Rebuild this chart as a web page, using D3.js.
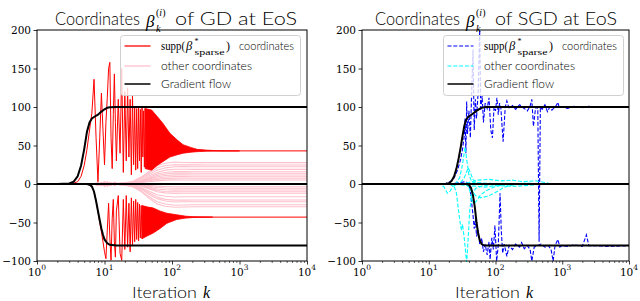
<!DOCTYPE html>
<html><head><meta charset="utf-8">
<script src="https://cdn.jsdelivr.net/npm/d3@7"></script>
<style>body{margin:0;background:#fff} svg{display:block}</style>
</head><body><svg id="c" width="640" height="301"></svg>
<script>
// ---------------- DATA ----------------
const xMajorTicks = [1, 10, 100, 1000, 10000];
const xTickExponents = ["0", "1", "2", "3", "4"];
const yTicks = [-100, -50, 0, 50, 100, 150, 200];
const yTickLabels = ["\u2212100", "\u221250", "0", "50", "100", "150", "200"];
const legendLabels = ["coordinates", "other coordinates", "Gradient flow"];
const panelTitles = ["of GD at EoS", "of SGD at EoS"];

// --- GD panel ---
const gdFlowTop = [[1,0],[2,0.1],[3,0.8],[3.5,3],[4,10],[4.5,24],[5,45],[5.5,68],[6,80],[6.5,85],[7,87],[8,90],[9,94],[10,97],[11,99],[12,99.7],[15,100],[10000,100]];
const gdFlowZero = [[1,0],[10000,0]];
const gdFlowBottom = [[1,0],[5.5,0],[6,-1],[6.5,-3],[7,-10],[7.5,-22],[8,-35],[8.5,-47],[9,-58],[9.5,-66],[10,-72],[11,-77],[12,-79],[15,-80],[10000,-80]];

const gdSuppTop = [[1,0],[2,0],[3,0.3],[3.5,1],[4,3],[4.5,10],[5,24],[5.5,45],[6,70],[6.5,92],[7,136],[7.5,60],[8,3],[8.5,60],[9,118],[9.5,70],[10,25],[10.5,80],[11,112],[11.5,150],[12,158],[12.5,60],[13,20],[13.5,90],[14,143],[14.5,80],[15,30],[16,110],[17,40],[18,150],[19,15],[20,120],[21,30],[22,125],[23,35],[24,110],[25,12],[26,115],[27,25],[28,100],[29,18],[30,98],[31,20],[32,100],[33,30],[34,97],[35,15],[36,99],[37,35],[38,95],[39,22],[40,98],[42,55],[50,55],[100,50],[200,44],[500,43],[10000,43]];
const gdTopBandK     = [40, 50, 60, 73, 93, 120, 146, 190, 235, 320, 464, 700, 1000];
const gdTopBandUpper = [98, 96, 88, 79, 66, 57, 51, 47.5, 45, 44, 43.3, 43.1, 43];
const gdTopBandLower = [20, 18, 24, 29, 35, 38, 40, 41.3, 42, 42.5, 42.8, 42.9, 43];

const gdSuppBottom = [[1,0],[5,0],[6,-1],[6.5,-4],[7,-10],[7.5,-22],[8,-36],[8.5,-50],[9,-62],[9.5,-75],[10,-88],[10.5,-97],[11,-60],[11.5,-25],[12,-70],[12.5,-99],[13,-45],[13.5,-20],[14,-75],[14.5,-95],[15,-35],[16,-15],[17,-90],[18,-99],[19,-20],[20,-85],[21,-15],[22,-82],[23,-25],[24,-88],[25,-18],[26,-80],[27,-22],[28,-75],[29,-20],[30,-72],[31,-24],[32,-74],[33,-26],[34,-70],[35,-28],[36,-71],[38,-45],[60,-45],[120,-43],[10000,-43]];
const gdBotBandK     = [36, 44, 52, 66, 84, 118, 160, 205, 400];
const gdBotBandUpper = [-28, -30, -31, -35, -38, -40, -41.8, -42.5, -43];
const gdBotBandLower = [-71, -67, -64, -58, -51, -46, -44.3, -43.5, -43];

const gdOtherK = [1,7,8,9,10,11,12,14,17,21,27,35,45,60,80,110,150,220,350,10000];
const gdOtherValues = [
  [0,0,1,-1,2,-2,2,-1,1,2,4,9,16,24,27,28.5,28,27.8,27.7,27.7],
  [0,0,-1,1,-2,2,-1,2,0,1,3,8,14,21,24,25,24.9,24.8,24.7,24.7],
  [0,0,1,-2,2,-1,1,0,1,1,3,7,12,18,21,22.5,22.6,22.5,22.5,22.5],
  [0,0,-1,2,-3,2,-2,1,-1,1,2,5,10,15,18,19.2,19.2,19,19,19],
  [0,0,1,-1,3,-3,2,-2,1,0,2,4,8,13,15,16.2,16.1,16,16,16],
  [0,0,-1,1,-1,2,-2,1,0,1,2,4,7,11,13,14.2,14.1,14,14,14],
  [0,0,2,-2,3,-2,1,-1,1,1,1,3,6,9.5,11,11.8,11.8,11.7,11.7,11.7],
  [0,0,-2,1,-2,3,-1,1,0,0,1,3,5,7.5,9,9.6,9.6,9.5,9.5,9.5],
  [0,0,1,-1,1,-1,2,-1,0,1,1,2,4,6,7,7.5,7.4,7.4,7.4,7.4],
  [0,0,-1,2,-1,1,-1,0,1,0,1,2,3,4,5,5.3,5.2,5.2,5.2,5.2],
  [0,0,1,-1,2,-1,1,-1,0,-1,-1,-1.5,-2,-2.8,-3.2,-3.5,-3.5,-3.5,-3.5,-3.5],
  [0,0,-1,1,-2,1,-1,1,0,0,-1,-2,-3,-4.5,-5.2,-5.6,-5.6,-5.6,-5.6,-5.6],
  [0,0,2,-2,1,-2,1,0,-1,0,-1,-2,-4,-6.5,-7.5,-7.9,-7.8,-7.8,-7.8,-7.8],
  [0,0,-2,2,-3,2,-1,1,-1,-1,-1,-3,-5,-8.5,-9.7,-10.1,-10,-10,-10,-10],
  [0,0,1,-2,3,-3,2,-1,1,0,-1,-3,-6,-10,-11.5,-12.2,-12,-12,-12,-12],
  [0,0,-1,1,-2,2,-2,1,0,-1,-2,-5,-9,-14,-16,-16.8,-16.6,-16.5,-16.5,-16.5],
  [0,0,2,-1,2,-2,1,-1,0,-1,-2,-6,-11,-17,-20,-21,-20.9,-20.8,-20.8,-20.8],
  [0,0,-1,2,-2,3,-2,1,-1,-1,-3,-7,-13,-19,-22,-23.3,-23.1,-23,-23,-23],
  [0,0,1,-1,3,-2,2,-1,0,-2,-4,-9,-16,-23,-26,-27.5,-27.2,-27,-27,-27],
  [0,0,-2,1,-3,2,-1,2,-1,-2,-4,-10,-18,-26,-29,-30.2,-29.8,-29.5,-29.5,-29.5]
];

// --- SGD panel ---
const sgdFlowTop = [[1,0],[18,0],[20,1],[22,4],[24,10],[26,20],[28,33],[30,47],[32,62],[34,75],[36,83],[39,87],[45,91],[52,95],[60,98.5],[70,100],[10000,100]];
const sgdFlowZero = [[1,0],[10000,0]];
const sgdFlowBottom = [[1,0],[37,0],[40,-1],[43,-5],[46,-15],[49,-30],[52,-50],[55,-64],[58,-73],[62,-78],[68,-80],[10000,-80]];

const sgdSuppTop = [[1,0],[15,0],[18,1],[21,3],[24,8],[27,18],[30,32],[32,45],[34,62],[35,85],[36,40],[37,107],[38,65],[40,95],[42,60],[44,120],[46,175],[48,70],[50,110],[52,85],[55,120],[58,200],[60,95],[63,115],[66,80],[70,105],[75,98],[80,112],[85,70],[90,60],[95,100],[100,95],[105,112],[110,90],[115,105],[120,100],[130,55],[140,100],[148,108],[160,98],[180,102],[200,97],[230,103],[260,99],[300,95],[330,101],[350,110],[370,75],[400,100],[430,98],[450,-75],[470,100],[500,97],[550,103],[600,94],[650,100],[700,96],[800,101],[860,106],[900,99],[1000,100],[1200,98],[1500,101],[2000,99],[2500,101],[3000,100],[5000,100],[10000,100]];
const sgdSuppBottom = [[1,0],[20,0],[30,2],[36,3],[40,0],[42,-10],[44,-25],[46,-40],[48,-58],[50,-45],[52,-68],[55,-60],[58,-78],[62,-70],[66,-88],[70,-78],[75,-92],[80,-75],[83,-98],[88,-70],[93,-85],[98,-54],[104,-100],[110,-80],[117,-12],[122,-60],[128,-90],[135,-78],[148,-94],[160,-80],[180,-85],[200,-78],[230,-82],[246,-76],[270,-84],[300,-80],[330,-85],[350,-100],[380,-82],[420,-80],[480,-78],[550,-82],[620,-80],[680,-85],[730,-100],[780,-80],[860,-72],[920,-82],[1000,-80],[1200,-81],[1500,-79],[2000,-81],[2300,-66],[2500,-80],[3000,-80],[5000,-81],[10000,-80]];

const sgdOther1 = [[1,0],[20,0],[24,-3],[26,-12],[28,-35],[30,-55],[31,-60],[32,-52],[34,-70],[36,-92],[37,-102],[39,-70],[41,-35],[44,-15],[50,-6],[60,-3],[80,-1],[120,0],[600,0]];
const sgdOther2 = [[1,0],[25,0],[30,2],[34,8],[37,16],[39,21],[42,15],[46,6],[52,2],[70,1],[150,0],[600,0]];
const sgdOther3 = [[1,0],[35,0],[40,-4],[45,-9],[50,-15],[60,-18],[75,-16],[90,-13],[110,-9],[130,-5],[160,-2],[220,0],[600,0]];
const sgdOther4 = [[1,0],[38,0],[41,-8],[44,-18],[47,-26],[52,-22],[60,-14],[75,-8],[95,-4],[130,-1],[600,0]];
const sgdOther5 = [[1,0],[30,0],[40,2],[55,5],[80,6],[120,4],[180,5],[260,3],[400,4],[550,2],[700,0]];
const sgdOther6 = [[1,0],[15,0],[17,-4],[19,-12],[21,-9],[23,-3],[27,0],[40,1],[100,-1],[300,1],[600,0]];
const sgdOther7 = [[1,0],[25,0],[29,8],[32,25],[35,48],[37,32],[40,12],[44,3],[55,0],[600,0]];
const sgdOther8 = [[1,0],[20,0],[40,-2],[70,-4],[100,-2],[200,-3],[400,-1],[650,0]];

// ---------------- DRAWING ----------------
const svg = d3.select('#c');
const SANS = "Lato, 'Open Sans', sans-serif";
const SERIF = "'DejaVu Serif', serif";
const MATH = "'Liberation Serif', serif";
const yTop = 30, yBot = 261;

function panel(id, x0, x1, cfg) {
  const x = d3.scaleLog().domain([1, 10000]).range([x0, x1]);
  const y = d3.scaleLinear().domain([-100, 200]).range([yBot, yTop]);
  const g = svg.append('g');
  const clipId = 'clip' + id;
  svg.append('clipPath').attr('id', clipId).append('rect')
    .attr('x', x0).attr('y', yTop - 1).attr('width', x1 - x0).attr('height', yBot - yTop + 2);
  const plot = g.append('g').attr('clip-path', `url(#${clipId})`);
  const line = d3.line().x(d => x(d[0])).y(d => y(d[1]));
  cfg.draw(plot, x, y, line);

  // frame
  g.append('rect').attr('x', x0).attr('y', yTop).attr('width', x1 - x0).attr('height', yBot - yTop)
    .attr('fill', 'none').attr('stroke', '#000').attr('stroke-width', 1);

  // x axis
  const minor = [];
  for (let d = 1; d < 10000; d *= 10) for (let m = 2; m <= 9; m++) minor.push(d * m);
  const ax = g.append('g').attr('transform', `translate(0,${yBot})`)
    .call(d3.axisBottom(x).tickValues(xMajorTicks).tickSize(3.5).tickFormat(''));
  ax.select('.domain').remove();
  ax.selectAll('line').attr('stroke-width', 0.8);
  const axm = g.append('g').attr('transform', `translate(0,${yBot})`)
    .call(d3.axisBottom(x).tickValues(minor).tickSize(2).tickFormat(''));
  axm.select('.domain').remove();
  axm.selectAll('line').attr('stroke-width', 0.6);
  xMajorTicks.forEach((v, i) => {
    const t = g.append('text').attr('x', x(v)).attr('y', 275.5).attr('text-anchor', 'middle')
      .attr('font-family', SERIF).attr('font-size', 10.5);
    t.append('tspan').text('10');
    t.append('tspan').attr('dy', -5.5).attr('font-size', 7.5).text(xTickExponents[i]);
  });

  // y axis
  const ay = g.append('g').attr('transform', `translate(${x0},0)`)
    .call(d3.axisLeft(y).tickValues(yTicks).tickSize(3.5).tickFormat((d, i) => yTickLabels[i]));
  ay.select('.domain').remove();
  ay.selectAll('line').attr('stroke-width', 0.8);
  ay.selectAll('text').attr('font-family', SERIF).attr('font-size', 10.5).attr('x', -6).attr('dy', '0.34em');

  // title (one text element, math parts as tspans)
  const tx = cfg.titleX;
  const tt = g.append('text').attr('y', 25).attr('font-family', SANS).attr('font-weight', 300).attr('font-size', 17);
  tt.append('tspan').attr('x', tx.coord).attr('textLength', 85).attr('lengthAdjust', 'spacingAndGlyphs').text('Coordinates');
  tt.append('tspan').attr('x', tx.beta).attr('dy', 2).attr('font-family', MATH).attr('font-style', 'italic')
    .attr('font-weight', 400).attr('font-size', 17).text('\u03b2');
  tt.append('tspan').attr('x', tx.beta + 10).attr('dy', -11).attr('font-family', MATH).attr('font-weight', 400)
    .attr('font-size', 10).text('(');
  tt.append('tspan').attr('font-family', MATH).attr('font-style', 'italic').attr('font-weight', 400)
    .attr('font-size', 10).text('i');
  tt.append('tspan').attr('font-family', MATH).attr('font-weight', 400).attr('font-size', 10).text(')');
  tt.append('tspan').attr('x', tx.beta + 10).attr('dy', 16).attr('font-family', MATH).attr('font-style', 'italic')
    .attr('font-weight', 400).attr('font-size', 10.5).text('k');
  tt.append('tspan').attr('x', tx.rest).attr('dy', -7).attr('textLength', tx.restW).attr('lengthAdjust', 'spacingAndGlyphs')
    .text(cfg.title);

  // x label
  const xl = cfg.xLabelX;
  const xt = g.append('text').attr('y', 298).attr('font-family', SANS).attr('font-weight', 300).attr('font-size', 16);
  xt.append('tspan').attr('x', xl).attr('textLength', 65).attr('lengthAdjust', 'spacingAndGlyphs').text('Iteration');
  xt.append('tspan').attr('x', xl + 71).attr('font-family', MATH).attr('font-style', 'italic').attr('font-weight', 400)
    .attr('font-size', 16).text('k');

  // legend
  const lx = cfg.legendX;
  const lg = g.append('g');
  lg.append('rect').attr('x', lx).attr('y', 35.5).attr('width', 180).attr('height', 60).attr('rx', 3)
    .attr('fill', '#fff').attr('fill-opacity', 0.8).attr('stroke', '#d0d0d0').attr('stroke-width', 1);
  const rows = [46, 66, 84];
  cfg.legendStyles.forEach((s, i) => {
    lg.append('line').attr('x1', lx + 4).attr('x2', lx + 30).attr('y1', rows[i]).attr('y2', rows[i])
      .attr('stroke', s.color).attr('stroke-width', s.w).attr('stroke-dasharray', s.dash || null);
  });
  const tx0 = lx + 40.5;
  const l1 = lg.append('text').attr('y', 50).attr('font-family', MATH).attr('font-size', 12);
  l1.append('tspan').attr('x', tx0).attr('textLength', 24).attr('lengthAdjust', 'spacingAndGlyphs').text('supp(');
  l1.append('tspan').attr('x', tx0 + 25).attr('font-style', 'italic').attr('font-size', 12.5).text('\u03b2');
  l1.append('tspan').attr('x', tx0 + 33.5).attr('dy', -6).attr('font-size', 8).text('*');
  l1.append('tspan').attr('x', tx0 + 33.5).attr('dy', 10.5).attr('font-size', 8.5)
    .attr('textLength', 30).attr('lengthAdjust', 'spacingAndGlyphs').text('sparse');
  l1.append('tspan').attr('x', tx0 + 65).attr('dy', -4.5).attr('font-size', 12).text(')');
  l1.append('tspan').attr('x', tx0 + 78).attr('font-family', SANS).attr('font-weight', 300).attr('font-size', 12.5)
    .attr('textLength', 55).attr('lengthAdjust', 'spacingAndGlyphs').text(legendLabels[0]);
  lg.append('text').attr('x', tx0).attr('y', 70).attr('font-family', SANS).attr('font-weight', 300).attr('font-size', 12.5)
    .attr('textLength', 91).attr('lengthAdjust', 'spacingAndGlyphs').text(legendLabels[1]);
  lg.append('text').attr('x', tx0).attr('y', 88).attr('font-family', SANS).attr('font-weight', 300).attr('font-size', 12.5)
    .attr('textLength', 70).attr('lengthAdjust', 'spacingAndGlyphs').text(legendLabels[2]);
}

// GD panel
panel('gd', 37, 307, {
  title: panelTitles[0],
  titleX: {coord: 55, beta: 146, rest: 175, restW: 122},
  xLabelX: 132,
  legendX: 120.5,
  legendStyles: [{color: '#ff0000', w: 1.3}, {color: '#ffc0cb', w: 1.3}, {color: '#000', w: 1.5}],
  draw(plot, x, y, line) {
    gdOtherValues.forEach(vals => {
      plot.append('path').datum(gdOtherK.map((k, i) => [k, vals[i]])).attr('d', line)
        .attr('fill', 'none').attr('stroke', '#ffc0cb').attr('stroke-width', 1.1);
    });
    const area = d3.area().x(d => x(d[0])).y0(d => y(d[1])).y1(d => y(d[2]));
    [[gdTopBandK, gdTopBandLower, gdTopBandUpper], [gdBotBandK, gdBotBandLower, gdBotBandUpper]].forEach(([K, lo, hi]) => {
      plot.append('path').datum(K.map((k, i) => [k, lo[i], hi[i]])).attr('d', area)
        .attr('fill', '#ff0000').attr('stroke', '#ff0000').attr('stroke-width', 0.8);
    });
    [gdSuppTop, gdSuppBottom].forEach(s => {
      plot.append('path').datum(s).attr('d', line).attr('fill', 'none')
        .attr('stroke', '#ff0000').attr('stroke-width', 1);
    });
    [gdFlowTop, gdFlowZero, gdFlowBottom].forEach(s => {
      plot.append('path').datum(s).attr('d', line).attr('fill', 'none')
        .attr('stroke', '#000').attr('stroke-width', 2);
    });
  }
});

// SGD panel
panel('sgd', 362, 629, {
  title: panelTitles[1],
  titleX: {coord: 375, beta: 466, rest: 495, restW: 122},
  xLabelX: 455,
  legendX: 443.5,
  legendStyles: [{color: '#0000ff', w: 1.2, dash: '4,1.8'}, {color: '#00ffff', w: 1.2, dash: '4,1.8'}, {color: '#000', w: 1.5}],
  draw(plot, x, y, line) {
    [sgdSuppTop, sgdSuppBottom].forEach(s => {
      plot.append('path').datum(s).attr('d', line).attr('fill', 'none')
        .attr('stroke', '#0000ff').attr('stroke-width', 1.1).attr('stroke-dasharray', '4,1.8');
    });
    [sgdOther1, sgdOther2, sgdOther3, sgdOther4, sgdOther5, sgdOther6, sgdOther7, sgdOther8].forEach(s => {
      plot.append('path').datum(s).attr('d', line).attr('fill', 'none')
        .attr('stroke', '#00ffff').attr('stroke-width', 1.1).attr('stroke-dasharray', '4,1.8');
    });
    [sgdFlowTop, sgdFlowZero, sgdFlowBottom].forEach(s => {
      plot.append('path').datum(s).attr('d', line).attr('fill', 'none')
        .attr('stroke', '#000').attr('stroke-width', 2);
    });
  }
});
</script></body></html>
